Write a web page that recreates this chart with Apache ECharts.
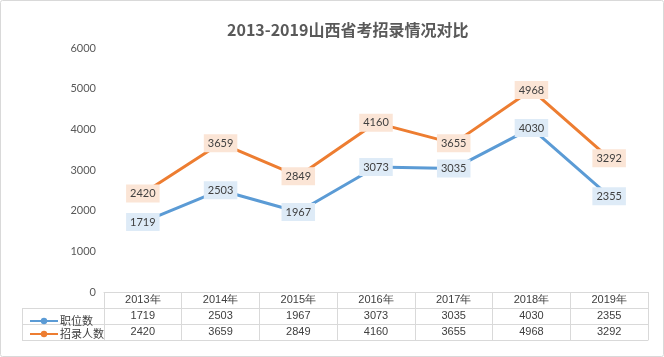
<!DOCTYPE html>
<html><head><meta charset="utf-8">
<script src="https://cdn.jsdelivr.net/npm/echarts@6/dist/echarts.min.js"></script>
<style>html,body{margin:0;padding:0;background:#fff}#c{width:664px;height:357px}</style>
</head><body><div id="c"></div>
<script>
const years = ['2013年','2014年','2015年','2016年','2017年','2018年','2019年'];
const jobs = [1719, 2503, 1967, 3073, 3035, 4030, 2355];
const hires = [2420, 3659, 2849, 4160, 3655, 4968, 3292];
const yTicks = [0, 1000, 2000, 3000, 4000, 5000, 6000];

const chart = echarts.init(document.getElementById('c'));
const gridC = '#D9D9D9';
const txt = '#404040';
const numFont = 'Liberation Sans, Arial, sans-serif';
const lblFont = 'Lato, Noto Sans, sans-serif';
function rowAxis(offset, fmt) {
  return {
    type: 'category', data: years, position: 'bottom', offset: offset,
    boundaryGap: true,
    axisLine: {show: true, lineStyle: {color: gridC, width: 1}},
    axisTick: {show: false},
    axisLabel: {show: !!fmt, interval: 0, margin: 0, lineHeight: 16, fontSize: 11, color: txt, fontFamily: numFont, formatter: fmt || ''}
  };
}
chart.setOption({
  animation: false,
  title: {text: '2013-2019山西省考招录情况对比', left: 222, top: 17,
    textStyle: {fontSize: 16, fontWeight: 'bold', color: '#595959', fontFamily: 'Noto Sans CJK SC, sans-serif'}},
  grid: {left: 104, right: 16, top: 48, bottom: 65},
  legend: {orient: 'vertical', left: 24, top: 308, itemGap: -3, itemWidth: 28, itemHeight: 8,
    textStyle: {fontSize: 11, color: txt, lineHeight: 16, padding: [0,0,0,-3], fontFamily: 'Noto Sans CJK SC, sans-serif'},
    data: ['职位数', '招录人数']},
  xAxis: [
    {type: 'category', data: years, boundaryGap: true,
      axisLine: {show: true, lineStyle: {color: gridC}},
      axisTick: {show: true, interval: 0, length: 48, lineStyle: {color: gridC}},
      axisLabel: {interval: 0, margin: 0, lineHeight: 16, fontSize: 11, color: txt, fontFamily: numFont}},
    rowAxis(16, (v, i) => String(jobs[i])),
    rowAxis(32, (v, i) => String(hires[i])),
    rowAxis(48, null)
  ],
  yAxis: {type: 'value', min: yTicks[0], max: yTicks[yTicks.length-1], interval: 1000,
    axisLine: {show: false}, axisTick: {show: false}, splitLine: {show: false},
    axisLabel: {margin: 8, fontSize: 11, color: '#595959', fontFamily: lblFont, formatter: v => String(v)}},
  series: [
    {name: '职位数', type: 'line', data: jobs, xAxisIndex: 0, symbol: 'circle', symbolSize: 6,
      lineStyle: {width: 3, color: '#5B9BD5'}, itemStyle: {color: '#5B9BD5'},
      label: {show: true, position: 'inside', backgroundColor: '#DEEBF7', padding: [4,4,3,4],
        color: txt, fontSize: 11, fontFamily: lblFont}},
    {name: '招录人数', type: 'line', data: hires, xAxisIndex: 0, symbol: 'circle', symbolSize: 6,
      lineStyle: {width: 3, color: '#ED7D31'}, itemStyle: {color: '#ED7D31'},
      label: {show: true, position: 'inside', backgroundColor: '#FBE5D6', padding: [4,4,3,4],
        color: txt, fontSize: 11, fontFamily: lblFont}}
  ],
  graphic: [
    {type: 'rect', shape: {x: 0.5, y: 0.5, width: 663, height: 356, r: 2}, style: {fill: 'none', stroke: '#D9D9D9', lineWidth: 1}, silent: true},
    {type: 'line', shape: {x1: 22, y1: 308.5, x2: 104, y2: 308.5}, style: {stroke: gridC, lineWidth: 1}},
    {type: 'line', shape: {x1: 22, y1: 324.5, x2: 104, y2: 324.5}, style: {stroke: gridC, lineWidth: 1}},
    {type: 'line', shape: {x1: 22, y1: 340.5, x2: 104, y2: 340.5}, style: {stroke: gridC, lineWidth: 1}},
    {type: 'line', shape: {x1: 22.5, y1: 308, x2: 22.5, y2: 341}, style: {stroke: gridC, lineWidth: 1}}
  ]
});
</script></body></html>
